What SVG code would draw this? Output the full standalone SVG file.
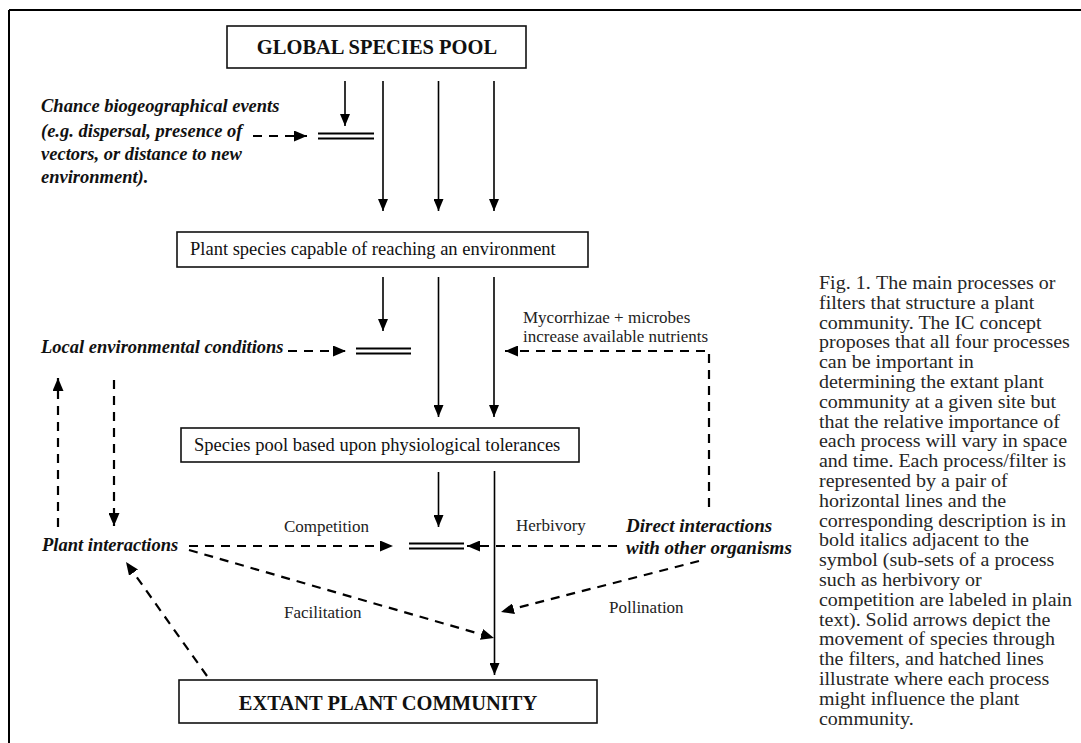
<svg xmlns="http://www.w3.org/2000/svg" width="1081" height="743" viewBox="0 0 1081 743">
<defs>
<marker id="ah" viewBox="0 0 12 10" refX="12" refY="5" markerWidth="12" markerHeight="10" markerUnits="userSpaceOnUse" orient="auto">
<path d="M0,0 L12,5 L0,10 z" fill="#000"/>
</marker>
<marker id="ahd" viewBox="0 0 13 11" refX="13" refY="5.5" markerWidth="13" markerHeight="11" markerUnits="userSpaceOnUse" orient="auto">
<path d="M0,0 L13,5.5 L0,11 z" fill="#000"/>
</marker>
</defs>
<style>
.box{fill:#fff;stroke:#111;stroke-width:1.6}
.sol{stroke:#000;stroke-width:1.6;fill:none;marker-end:url(#ah)}
.dash{stroke:#000;stroke-width:2.2;fill:none;stroke-dasharray:9 7;marker-end:url(#ahd)}
.flt{stroke:#000;stroke-width:2}
.bt{font-family:"Liberation Serif",serif;font-weight:bold;font-size:20.5px;fill:#111}
.rt{font-family:"Liberation Serif",serif;font-size:18.5px;fill:#111}
.lb{font-family:"Liberation Serif",serif;font-size:17px;fill:#222}
.bi{font-family:"Liberation Serif",serif;font-weight:bold;font-style:italic;font-size:18.5px;fill:#111}
.cap{font-family:"Liberation Serif",serif;font-size:18.3px;fill:#262626}
</style>
<rect width="1081" height="743" fill="#fff"/>
<g id="frame">
<line x1="9" y1="10" x2="1081" y2="10" stroke="#000" stroke-width="2"/>
<line x1="9" y1="10" x2="9" y2="743" stroke="#000" stroke-width="2"/>
</g>
<g id="global">
<rect class="box" x="227" y="26" width="299" height="42"/>
<text class="bt" x="377" y="54" text-anchor="middle">GLOBAL SPECIES POOL</text>
</g>
<g id="reaching">
<rect class="box" x="177" y="232" width="411" height="35"/>
<text class="rt" x="190" y="255">Plant species capable of reaching an environment</text>
</g>
<g id="physio">
<rect class="box" x="181" y="428" width="398" height="34"/>
<text class="rt" x="194" y="451">Species pool based upon physiological tolerances</text>
</g>
<g id="extant">
<rect class="box" x="179" y="680" width="418" height="43"/>
<text class="bt" x="388" y="710" text-anchor="middle">EXTANT PLANT COMMUNITY</text>
</g>
<g id="filter1">
<line class="flt" x1="318" y1="133.5" x2="374" y2="133.5"/>
<line class="flt" x1="318" y1="138.5" x2="374" y2="138.5"/>
</g>
<g id="filter2">
<line class="flt" x1="356" y1="348.5" x2="411" y2="348.5"/>
<line class="flt" x1="356" y1="353.5" x2="411" y2="353.5"/>
</g>
<g id="filter3">
<line class="flt" x1="409" y1="543.5" x2="464" y2="543.5"/>
<line class="flt" x1="409" y1="548.5" x2="464" y2="548.5"/>
</g>
<g id="chance">
<text class="bi" x="41" y="112">Chance biogeographical events</text>
<text class="bi" x="41" y="137">(e.g. dispersal, presence of</text>
<text class="bi" x="41" y="160">vectors, or distance to new</text>
<text class="bi" x="41" y="183">environment).</text>
</g>
<g id="local">
<text class="bi" x="41" y="353">Local environmental conditions</text>
</g>
<g id="plantint">
<text class="bi" x="42" y="551">Plant interactions</text>
</g>
<g id="direct">
<text class="bi" x="626" y="532" style="font-size:19px">Direct interactions</text>
<text class="bi" x="626" y="554" style="font-size:19px">with other organisms</text>
</g>
<g id="labels">
<text class="lb" x="523" y="323">Mycorrhizae + microbes</text>
<text class="lb" x="523" y="342">increase available nutrients</text>
<text class="lb" x="284" y="532">Competition</text>
<text class="lb" x="516" y="531">Herbivory</text>
<text class="lb" x="284" y="618">Facilitation</text>
<text class="lb" x="609" y="613">Pollination</text>
</g>
<g id="connectors">
<line class="sol" x1="345" y1="81" x2="345" y2="126"/>
<line class="sol" x1="383" y1="81" x2="383" y2="211"/>
<line class="sol" x1="438.5" y1="81" x2="438.5" y2="211"/>
<line class="sol" x1="494" y1="81" x2="494" y2="211"/>
<line class="sol" x1="383" y1="277" x2="383" y2="331"/>
<line class="sol" x1="438.5" y1="277" x2="438.5" y2="417"/>
<line class="sol" x1="494" y1="277" x2="494" y2="417"/>
<line class="sol" x1="438.5" y1="472" x2="438.5" y2="527"/>
<line class="sol" x1="494.5" y1="471" x2="494.5" y2="675"/>
<line class="dash" x1="253" y1="136" x2="307" y2="136"/>
<line class="dash" x1="288" y1="351" x2="346" y2="351"/>
<polyline class="dash" points="709,507 709,351 505,351"/>
<line class="dash" x1="189" y1="546" x2="393" y2="546"/>
<line class="dash" x1="617" y1="546" x2="467" y2="546"/>
<line class="dash" x1="699" y1="561" x2="501" y2="612"/>
<line class="dash" x1="189" y1="550" x2="494" y2="638"/>
<line class="dash" x1="207" y1="676" x2="126" y2="562"/>
<line class="dash" x1="58" y1="527" x2="58" y2="378"/>
<line class="dash" x1="114" y1="380" x2="114" y2="526"/>
</g>
<g id="caption" transform="translate(819,0) scale(1.093,1)">
<text class="cap" x="0" y="289">Fig. 1.<tspan dx="5">The main processes or</tspan></text>
<text class="cap" x="0" y="308.8">filters that structure a plant</text>
<text class="cap" x="0" y="328.6">community. The IC concept</text>
<text class="cap" x="0" y="348.4">proposes that all four processes</text>
<text class="cap" x="0" y="368.2">can be important in</text>
<text class="cap" x="0" y="388">determining the extant plant</text>
<text class="cap" x="0" y="407.8">community at a given site but</text>
<text class="cap" x="0" y="427.6">that the relative importance of</text>
<text class="cap" x="0" y="447.4">each process will vary in space</text>
<text class="cap" x="0" y="467.2">and time. Each process/filter is</text>
<text class="cap" x="0" y="487">represented by a pair of</text>
<text class="cap" x="0" y="506.8">horizontal lines and the</text>
<text class="cap" x="0" y="526.6">corresponding description is in</text>
<text class="cap" x="0" y="546.4">bold italics adjacent to the</text>
<text class="cap" x="0" y="566.2">symbol (sub-sets of a process</text>
<text class="cap" x="0" y="586">such as herbivory or</text>
<text class="cap" x="0" y="605.8">competition are labeled in plain</text>
<text class="cap" x="0" y="625.6">text). Solid arrows depict the</text>
<text class="cap" x="0" y="645.4">movement of species through</text>
<text class="cap" x="0" y="665.2">the filters, and hatched lines</text>
<text class="cap" x="0" y="685">illustrate where each process</text>
<text class="cap" x="0" y="704.8">might influence the plant</text>
<text class="cap" x="0" y="724.6">community.</text>
</g>
</svg>
